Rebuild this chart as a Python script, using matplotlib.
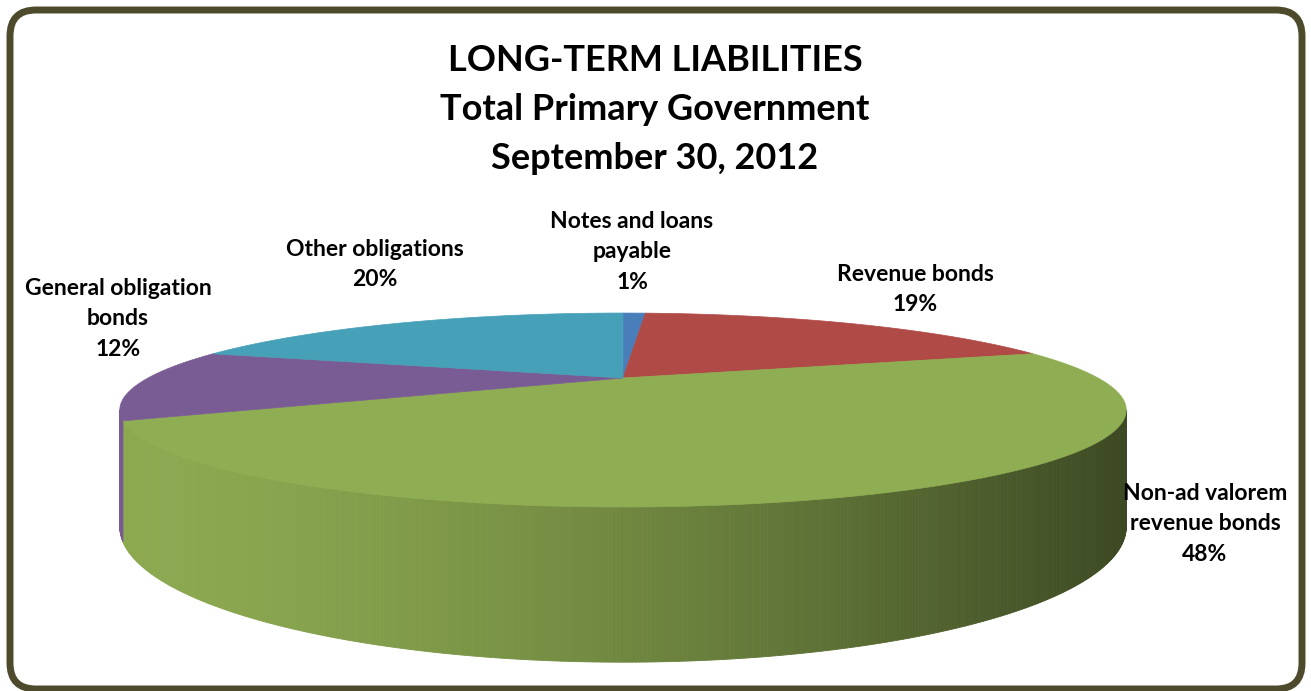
import numpy as np
import matplotlib.pyplot as plt
from matplotlib.patches import Polygon, FancyBboxPatch

# long-term liabilities split, clockwise from 12 o'clock
categories = ['Notes and loans\npayable', 'Revenue bonds', 'Non-ad valorem\nrevenue bonds',
              'General obligation\nbonds', 'Other obligations']
shares = [1, 19, 48, 12, 20]
colors = ['#4A7EBB', '#B04A47', '#8FAD52', '#7A5C94', '#46A0B8']
label_pos = [(632, 211), (915, 264), (1205, 483), (118, 278), (375, 239)]

title = 'LONG-TERM LIABILITIES\nTotal Primary Government\nSeptember 30, 2012'

# perspective of the tilted disc (pixel space)
CX, CY = 623, 378
A, B, K = 475, 86.4, 0.33
DEPTH = 104


def project(theta, drop=0.0):
    x = np.sin(theta)
    y = -np.cos(theta)
    s = 1.0 / (1.0 - K * y)
    return CX + A * x * s, CY + (B * y + drop) * s


def shade(hex_color, f):
    r, g, b = [int(hex_color[i:i + 2], 16) / 255 for i in (1, 3, 5)]
    return (r * f, g * f, b * f)


plt.rcParams['font.family'] = ['Lato', 'DejaVu Sans']
fig = plt.figure(figsize=(13.11, 6.91), dpi=100)
ax = fig.add_axes([0, 0, 1, 1])
ax.set_xlim(0, 1311)
ax.set_ylim(691, 0)
ax.axis('off')

frame = FancyBboxPatch((10, 10), 1292, 679, boxstyle='round,pad=0,rounding_size=26',
                       lw=5, ec='#4E4A2C', fc='white', zorder=0)
ax.add_patch(frame)

total = float(sum(shares))
bounds = np.concatenate([[0], np.cumsum(shares)]) / total * 2 * np.pi

# visible front rim lies between the two silhouette angles
front_lo = np.arccos(-K)
front_hi = 2 * np.pi - front_lo

x_left, _ = project(front_hi)
x_right, _ = project(front_lo)

for i in range(len(shares)):
    a0, a1 = max(bounds[i], front_lo), min(bounds[i + 1], front_hi)
    if a1 <= a0:
        continue
    ts = np.linspace(a0, a1, max(4, int((a1 - a0) * 180)))
    for t0, t1 in zip(ts[:-1], ts[1:]):
        xa, ya = project(t0)
        xb, yb = project(t1)
        xa2, ya2 = project(t0, DEPTH)
        xb2, yb2 = project(t1, DEPTH)
        u = ((xa + xb) / 2 - x_left) / (x_right - x_left)
        u = np.clip(u, 0, 1)
        f = 0.98 - 0.56 * u ** 1.5
        c = shade(colors[i], f)
        ax.add_patch(Polygon([(xa, ya), (xb, yb), (xb2, yb2), (xa2, ya2)],
                             closed=True, fc=c, ec=c, lw=0.6, zorder=1))

for i in range(len(shares)):
    ts = np.linspace(bounds[i], bounds[i + 1], max(3, int((bounds[i + 1] - bounds[i]) * 120)))
    pts = [(CX, CY)] + [project(t) for t in ts]
    ax.add_patch(Polygon(pts, closed=True, fc=colors[i], ec=colors[i], lw=0.5, zorder=2))

for name, val, (lx, ly) in zip(categories, shares, label_pos):
    ax.text(lx, ly, f'{name}\n{val}%', ha='center', va='top', fontsize=16.5,
            fontweight='bold', linespacing=1.55, color='black', zorder=3)

ax.text(655, 44, title, ha='center', va='top', fontsize=26, fontweight='bold',
        linespacing=1.6, color='black')

fig.savefig('out.png', dpi=100)
